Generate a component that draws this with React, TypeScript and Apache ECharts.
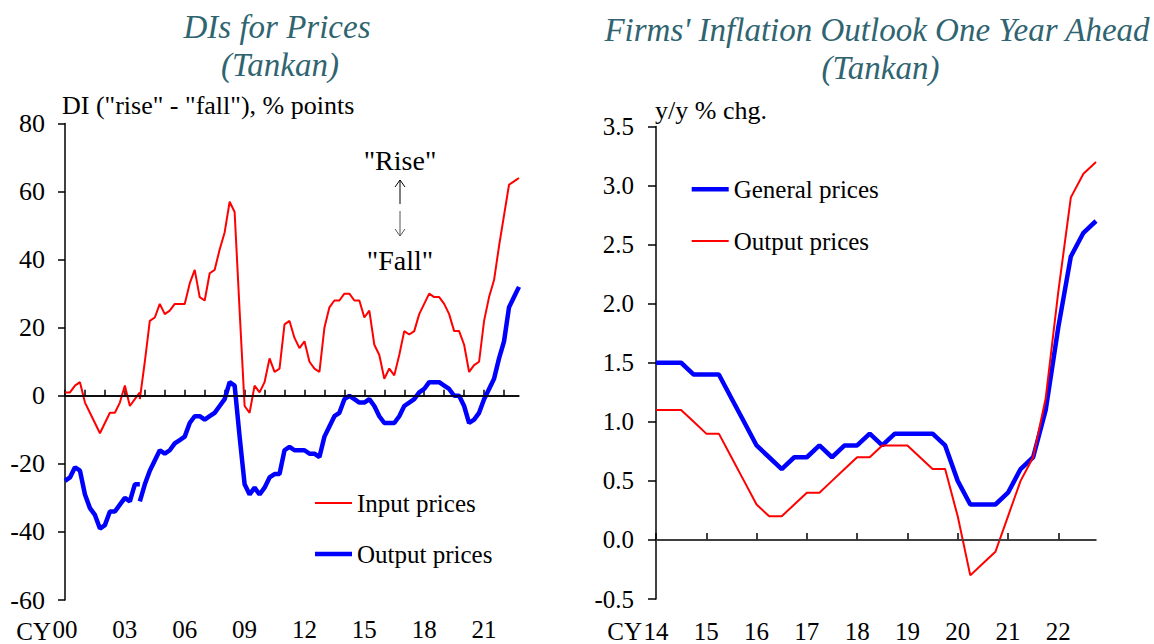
import React, { useEffect, useRef } from "react";
import * as echarts from "echarts";

const FONT = "'Liberation Serif', 'Times New Roman', Times, serif";
const TITLE_COLOR = "#2f6470";

// ---- Left chart: DIs for Prices (Tankan), quarterly 2000Q1 - 2022Q4 ----
const LEFT_START_YEAR = 2000;
const LEFT_END_YEAR = 2022;

// Old basis: 2000Q1 - 2003Q4
const inputOld = [1, 1, 3, 4, -2, -5, -8, -11, -8, -5, -5, -2, 3, -3, -1, 1];
const outputOld = [-25, -24, -21, -22, -29, -33, -35, -39, -38, -34, -34, -32, -30, -31, -26, -26];

// New basis: 2003Q4 - 2022Q4
const inputNew = [
  -1, 10, 22, 23, 27, 24, 25, 27, 27, 27, 33, 37, 29, 28, 36, 37, 43, 48, 57, 54,
  25, -3, -5, 3, 1, 4, 11, 7, 8, 21, 22, 17, 14, 16, 10, 8, 7, 20, 26, 28,
  28, 30, 30, 28, 28, 23, 25, 15, 12, 5, 8, 6, 12, 19, 18, 19, 24, 27, 30, 29,
  29, 27, 24, 19, 19, 15, 7, 9, 10, 22, 29, 34, 44, 53, 62, 63, 64,
];
const outputNew = [
  -31, -26, -22, -19, -16, -17, -16, -14, -13, -12, -8, -6, -6, -7, -6, -5, -3, -1, 4, 3,
  -12, -26, -29, -27, -29, -27, -24, -23, -23, -16, -15, -16, -16, -16, -17, -17, -18, -12, -9, -6,
  -5, -1, 0, -1, -2, -2, -1, -3, -6, -8, -8, -8, -6, -3, -2, -1, 1, 2, 4, 4,
  4, 3, 2, 0, 0, -3, -8, -7, -5, -1, 2, 5, 11, 16, 26, 29, 32,
];

// ---- Right chart: Firms' inflation outlook one year ahead, 2014Q1 - 2022Q4 ----
const RIGHT_START_YEAR = 2014;
const RIGHT_END_YEAR = 2022;
const generalPrices = [
  1.5, 1.5, 1.5, 1.4, 1.4, 1.4, 1.2, 1.0, 0.8, 0.7, 0.6, 0.7, 0.7, 0.8, 0.7, 0.8,
  0.8, 0.9, 0.8, 0.9, 0.9, 0.9, 0.9, 0.8, 0.5, 0.3, 0.3, 0.3, 0.4, 0.6, 0.7, 1.1,
  1.8, 2.4, 2.6, 2.7,
];
const outputPrices = [
  1.1, 1.1, 1.1, 1.0, 0.9, 0.9, 0.7, 0.5, 0.3, 0.2, 0.2, 0.3, 0.4, 0.4, 0.5, 0.6,
  0.7, 0.7, 0.8, 0.8, 0.8, 0.7, 0.6, 0.6, 0.2, -0.3, -0.2, -0.1, 0.2, 0.5, 0.7, 1.2,
  2.1, 2.9, 3.1, 3.2,
];

function quarters(y0: number, y1: number): string[] {
  const out: string[] = [];
  for (let y = y0; y <= y1; y++) for (let q = 1; q <= 4; q++) out.push(`${y}Q${q}`);
  return out;
}

const leftCats = quarters(LEFT_START_YEAR, LEFT_END_YEAR);
const rightCats = quarters(RIGHT_START_YEAR, RIGHT_END_YEAR);

function padFront(vals: number[], total: number): (number | null)[] {
  const arr: (number | null)[] = new Array(total - vals.length).fill(null);
  return arr.concat(vals);
}
function padBack(vals: number[], total: number): (number | null)[] {
  const arr: (number | null)[] = vals.slice();
  while (arr.length < total) arr.push(null);
  return arr;
}

const tickText = { fontFamily: FONT, fontSize: 25, color: "#000" };
const yTickText = { fontFamily: FONT, fontSize: 26, color: "#000" };

function titleText(text: string, x: number, y: number) {
  return {
    type: "text",
    x,
    y,
    silent: true,
    style: {
      text,
      fontFamily: FONT,
      fontSize: 33,
      fontStyle: "italic",
      fill: TITLE_COLOR,
      align: "center",
      verticalAlign: "middle",
    },
  };
}

function plainText(text: string, x: number, y: number, align: string = "center", size = 25) {
  return {
    type: "text",
    x,
    y,
    silent: true,
    style: {
      text,
      fontFamily: FONT,
      fontSize: size,
      fill: "#000",
      align,
      verticalAlign: "middle",
    },
  };
}

// One legend per entry so each sample line can have its own thickness.
function legendEntry(name: string, left: number, centerY: number, thickness: number) {
  return {
    orient: "vertical",
    left: left - 5,
    top: centerY - 12.5 - 5,
    icon: "rect",
    itemWidth: 37,
    itemHeight: thickness,
    selectedMode: false,
    textStyle: { fontFamily: FONT, fontSize: 25, color: "#000", lineHeight: 25 },
    data: [name],
  };
}

function buildLeft() {
  const n = leftCats.length;
  const redLine = { color: "#FF0000", width: 2 };
  const blueLine = { color: "#0000FF", width: 4.5 };
  return {
    animation: false,
    backgroundColor: "#fff",
    textStyle: { fontFamily: FONT },
    grid: { left: 65, right: 58, top: 123.5, bottom: 44 },
    legend: [
      legendEntry("Input prices", 315, 503, 2),
      legendEntry("Output prices", 315, 554, 4.5),
    ],
    xAxis: {
      type: "category",
      data: leftCats,
      boundaryGap: false,
      axisLine: { lineStyle: { color: "#000", width: 1.5 } },
      axisTick: { inside: true, length: 6, interval: 3, lineStyle: { color: "#000", width: 1.5 } },
      axisLabel: { ...tickText, interval: 11, margin: 17, formatter: (v: string) => v.slice(2, 4) },
      splitLine: { show: false },
    },
    yAxis: {
      type: "value",
      min: -60,
      max: 80,
      interval: 20,
      name: 'DI ("rise" - "fall"), % points',
      nameLocation: "end",
      nameGap: 5,
      nameTextStyle: { ...yTickText, align: "left", verticalAlign: "bottom", padding: [0, 0, 0, -3] },
      axisLine: { show: true, lineStyle: { color: "#000", width: 1.5 } },
      axisTick: { show: true, length: 7, lineStyle: { color: "#000", width: 1.5 } },
      axisLabel: { ...yTickText, margin: 20 },
      splitLine: { show: false },
    },
    graphic: [
      titleText("DIs for Prices", 277, 27),
      titleText("(Tankan)", 280, 65),
      plainText("CY", 51, 631, "right"),
      plainText('"Rise"', 400, 160, "center", 28),
      plainText('"Fall"', 400, 260, "center", 28),
      { type: "line", silent: true, shape: { x1: 400, y1: 204, x2: 400, y2: 180 }, style: { stroke: "#000", lineWidth: 1 } },
      { type: "polyline", silent: true, shape: { points: [[395, 187], [400, 180], [405, 187]] }, style: { stroke: "#000", lineWidth: 1, fill: "none" } },
      { type: "line", silent: true, shape: { x1: 400, y1: 211, x2: 400, y2: 236 }, style: { stroke: "#555", lineWidth: 1 } },
      { type: "polyline", silent: true, shape: { points: [[395, 229], [400, 236], [405, 229]] }, style: { stroke: "#555", lineWidth: 1, fill: "none" } },
    ],
    series: [
      {
        name: "Input prices",
        type: "line",
        data: padBack(inputOld, n),
        symbol: "none",
        connectNulls: false,
        lineStyle: redLine,
        itemStyle: { color: "#FF0000" },
        z: 3,
        markLine: {
          silent: true,
          symbol: ["none", "none"],
          label: { show: false },
          lineStyle: { color: "#000", width: 1.5, type: "solid" },
          data: [{ yAxis: 0 }],
        },
      },
      {
        name: "Input prices",
        type: "line",
        data: padFront(inputNew, n),
        symbol: "none",
        connectNulls: false,
        lineStyle: redLine,
        itemStyle: { color: "#FF0000" },
        z: 3,
      },
      {
        name: "Output prices",
        type: "line",
        data: padBack(outputOld, n),
        symbol: "none",
        connectNulls: false,
        lineStyle: blueLine,
        itemStyle: { color: "#0000FF" },
        z: 2,
      },
      {
        name: "Output prices",
        type: "line",
        data: padFront(outputNew, n),
        symbol: "none",
        connectNulls: false,
        lineStyle: blueLine,
        itemStyle: { color: "#0000FF" },
        z: 2,
      },
    ],
  };
}

function buildRight() {
  return {
    animation: false,
    backgroundColor: "#fff",
    textStyle: { fontFamily: FONT },
    grid: { left: 79, right: 58, top: 126.5, bottom: 43.3 },
    legend: [
      legendEntry("General prices", 114.7, 189.3, 4.5),
      legendEntry("Output prices", 114.7, 241, 2),
    ],
    xAxis: {
      type: "category",
      data: rightCats,
      boundaryGap: false,
      axisLine: { lineStyle: { color: "#000", width: 1.5 } },
      axisTick: { inside: true, length: 7, interval: 3, lineStyle: { color: "#000", width: 1.5 } },
      axisLabel: { ...tickText, interval: 3, margin: 20, formatter: (v: string) => v.slice(2, 4) },
      splitLine: { show: false },
    },
    yAxis: {
      type: "value",
      min: -0.5,
      max: 3.5,
      interval: 0.5,
      name: "y/y % chg.",
      nameLocation: "end",
      nameGap: 3,
      nameTextStyle: { ...yTickText, align: "left", verticalAlign: "bottom", padding: [0, 0, 0, -1] },
      axisLine: { show: true, lineStyle: { color: "#000", width: 1.5 } },
      axisTick: { show: true, length: 8, lineStyle: { color: "#000", width: 1.5 } },
      axisLabel: { ...tickText, margin: 22, formatter: (v: number) => v.toFixed(1) },
      splitLine: { show: false },
    },
    graphic: [
      titleText("Firms' Inflation Outlook One Year Ahead", 300, 30),
      titleText("(Tankan)", 303.5, 68),
      plainText("CY", 65, 631, "right"),
    ],
    series: [
      {
        name: "General prices",
        type: "line",
        data: generalPrices,
        symbol: "none",
        lineStyle: { color: "#0000FF", width: 4.5 },
        itemStyle: { color: "#0000FF" },
        z: 2,
        markLine: {
          silent: true,
          symbol: ["none", "none"],
          label: { show: false },
          lineStyle: { color: "#404040", width: 1.5, type: "solid" },
          data: [{ yAxis: 0 }],
        },
      },
      {
        name: "Output prices",
        type: "line",
        data: outputPrices,
        symbol: "none",
        lineStyle: { color: "#FF0000", width: 2 },
        itemStyle: { color: "#FF0000" },
        z: 3,
      },
    ],
  };
}

export default function App() {
  const leftRef = useRef<HTMLDivElement>(null);
  const rightRef = useRef<HTMLDivElement>(null);

  useEffect(() => {
    if (!leftRef.current || !rightRef.current) return;
    const left = echarts.init(leftRef.current, undefined, { renderer: "svg" });
    const right = echarts.init(rightRef.current, undefined, { renderer: "svg" });
    left.setOption(buildLeft() as any);
    right.setOption(buildRight() as any);
    return () => {
      left.dispose();
      right.dispose();
    };
  }, []);

  return (
    <div
      style={{
        position: "fixed",
        left: 0,
        top: 0,
        width: 1154,
        height: 644,
        display: "flex",
        background: "#fff",
      }}
    >
      <div ref={leftRef} style={{ width: 577, height: 644 }} />
      <div ref={rightRef} style={{ width: 577, height: 644 }} />
    </div>
  );
}
